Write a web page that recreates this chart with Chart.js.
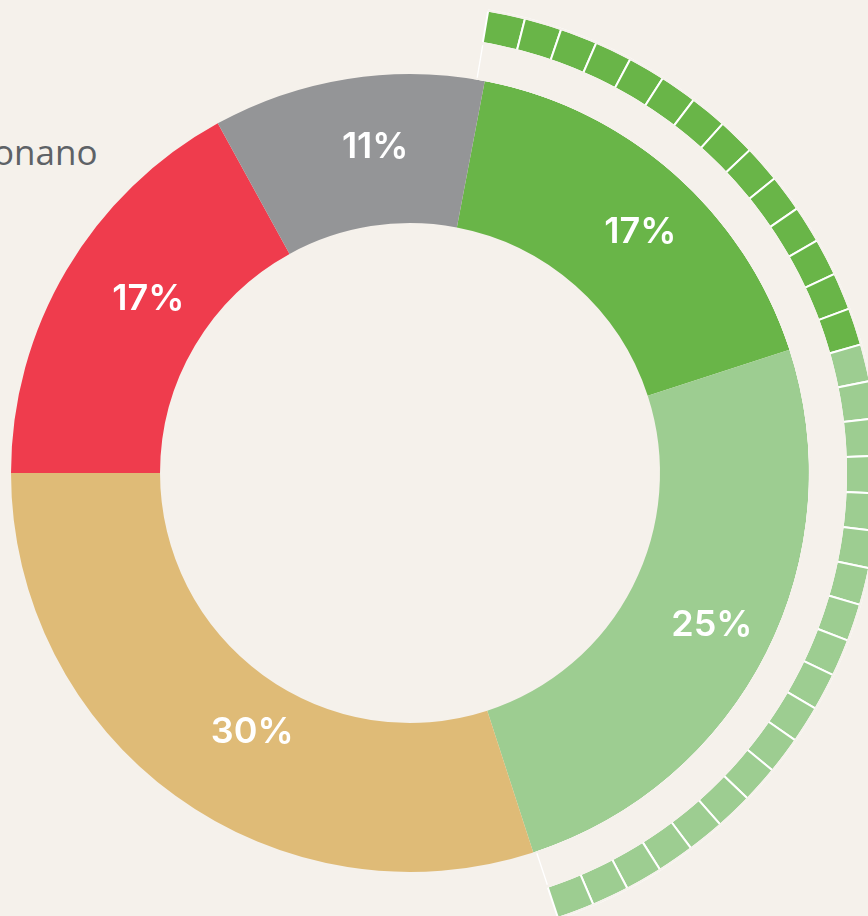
<!DOCTYPE html>
<html>
<head>
<meta charset="utf-8">
<script src="https://cdn.jsdelivr.net/npm/chart.js@4.4.0/dist/chart.umd.min.js"></script>
<style>
  html, body { margin: 0; padding: 0; background: #f5f1eb; overflow: hidden; width: 868px; height: 916px; }
  #chart { position: absolute; left: -70px; top: -7px; }
  .side-label { position: absolute; left: -7px; top: 128px; font-family: "Open Sans", sans-serif; font-size: 35px; color: #5e6266; white-space: nowrap; }
</style>
</head>
<body>
<div class="side-label">onano</div>
<canvas id="chart" width="960" height="960"></canvas>
<script>
// segments, clockwise from the top-right
const categories = ['Verde', 'Verde chiaro', 'Ocra', 'Rosso', 'Grigio'];
const shares = [17, 25, 30, 17, 11];
const colors = ['#69b548', '#9dcd91', '#dfbb77', '#ef3c4d', '#949597'];

// little squares on the outer ring
const darkSquares = 14;
const lightSquares = 19;

// label placement tweaks (degrees off the middle, depth inside the ring)
const labelShift = [2.3, -0.3, -4.7, 3.0, 2.9];
const labelDepth = [0.56, 0.59, 0.36, 0.43, 0.52];

const bg = '#f5f1eb';
const squareCount = darkSquares + lightSquares;
const ringData = Array(squareCount).fill(1);
const ringColors = Array(darkSquares).fill(colors[0]).concat(Array(lightSquares).fill(colors[1]));

// squares sweep
const ringStart = 9.6;
const ringSweep = 152;

// hide the white outline on the curved edges of the squares and the spacer
const trimEdges = {
    id: 'trimEdges',
    afterDatasetsDraw(chart) {
        const sq = chart.getDatasetMeta(0).data[0];
        const gap = chart.getDatasetMeta(1).data[0];
        const a0 = (ringStart - 90 - 0.5) * Math.PI / 180;
        const a1 = (ringStart + ringSweep - 90 + 0.5) * Math.PI / 180;
        const ctx = chart.ctx;
        ctx.save();
        ctx.strokeStyle = bg;
        [[sq.outerRadius, 2], [sq.innerRadius - 0.5, 3], [gap.innerRadius + 1, 2]].forEach(([r, w]) => {
            ctx.lineWidth = w;
            ctx.beginPath();
            ctx.arc(sq.x, sq.y, r, a0, a1);
            ctx.stroke();
        });
        ctx.restore();
    }
};

const percentLabels = {
    id: 'percentLabels',
    afterDatasetsDraw(chart) {
        const ctx = chart.ctx;
        const meta = chart.getDatasetMeta(2);
        ctx.save();
        ctx.fillStyle = '#ffffff';
        ctx.font = '600 36px Inter, sans-serif';
        ctx.textAlign = 'center';
        ctx.textBaseline = 'middle';
        meta.data.forEach((arc, i) => {
            const a = (arc.startAngle + arc.endAngle) / 2 + labelShift[i] * Math.PI / 180;
            const r = arc.innerRadius + (arc.outerRadius - arc.innerRadius) * labelDepth[i];
            ctx.fillText(shares[i] + '%', arc.x + Math.cos(a) * r, arc.y + Math.sin(a) * r);
        });
        ctx.restore();
    }
};

new Chart(document.getElementById('chart'), {
    type: 'doughnut',
    data: {
        labels: categories,
        datasets: [
            {
                data: ringData, backgroundColor: ringColors, borderColor: '#ffffff', borderWidth: 2,
                rotation: ringStart, circumference: ringSweep, weight: 33
            },
            {
                data: [1], backgroundColor: ['rgba(0,0,0,0)'], borderColor: '#ffffff', borderWidth: 1,
                borderAlign: 'inner', rotation: ringStart, circumference: ringSweep, weight: 37
            },
            { data: shares, backgroundColor: colors, borderWidth: 0, weight: 149 }
        ]
    },
    options: {
        responsive: false,
        animation: false,
        events: [],
        rotation: 10.8,
        radius: 469,
        cutout: '53.3%',
        plugins: {
            legend: { display: false },
            tooltip: { enabled: false }
        }
    },
    plugins: [trimEdges, percentLabels]
});
</script>
</body>
</html>
